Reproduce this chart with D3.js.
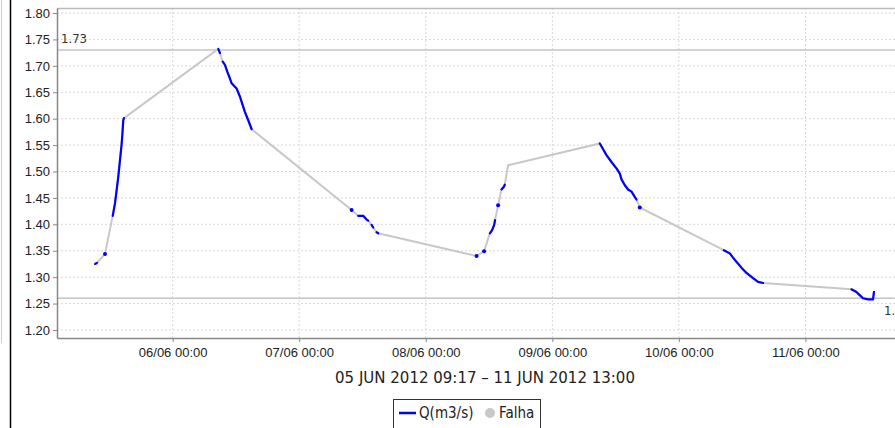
<!DOCTYPE html>
<html>
<head>
<meta charset="utf-8">
<script src="https://cdn.jsdelivr.net/npm/d3@7"></script>
<style>
  body { margin: 0; background: #fff; }
  svg { display: block; font-family: "DejaVu Sans Condensed", "DejaVu Sans", sans-serif; }
  .grid line { stroke: #d8d8d8; stroke-dasharray: 2,2; }
  .axis path, .axis line { stroke: #888; }
  .axis text { font-size: 13px; fill: #222; }
</style>
</head>
<body>
<svg width="895" height="428"></svg>
<script>
// measured flow, one sample per row
var times = [
  "2012-06-05 09:17", "2012-06-05 09:39", "2012-06-05 11:10", "2012-06-05 12:38", "2012-06-05 13:04",
  "2012-06-05 13:23", "2012-06-05 13:41", "2012-06-05 14:01", "2012-06-05 14:20", "2012-06-05 14:31",
  "2012-06-05 14:38", "2012-06-05 14:46", "2012-06-06 08:39", "2012-06-06 08:58", "2012-06-06 09:29",
  "2012-06-06 09:55", "2012-06-06 10:21", "2012-06-06 10:52", "2012-06-06 11:11", "2012-06-06 12:08",
  "2012-06-06 12:45", "2012-06-06 13:16", "2012-06-06 13:42", "2012-06-06 14:20", "2012-06-06 14:59",
  "2012-06-07 09:56", "2012-06-07 11:11", "2012-06-07 12:08", "2012-06-07 12:47", "2012-06-07 13:05",
  "2012-06-07 13:43", "2012-06-07 14:02", "2012-06-07 14:40", "2012-06-07 14:59", "2012-06-08 09:38",
  "2012-06-08 11:04", "2012-06-08 12:09", "2012-06-08 12:35", "2012-06-08 12:58", "2012-06-08 13:09",
  "2012-06-08 13:43", "2012-06-08 14:22", "2012-06-08 14:48", "2012-06-08 14:59", "2012-06-08 15:37",
  "2012-06-09 09:00", "2012-06-09 09:38", "2012-06-09 10:16", "2012-06-09 11:13", "2012-06-09 12:10",
  "2012-06-09 12:48", "2012-06-09 13:07", "2012-06-09 13:45", "2012-06-09 14:22", "2012-06-09 15:01",
  "2012-06-09 15:38", "2012-06-09 15:58", "2012-06-09 16:35", "2012-06-10 08:31", "2012-06-10 09:39",
  "2012-06-10 10:16", "2012-06-10 10:55", "2012-06-10 11:52", "2012-06-10 12:49", "2012-06-10 14:04",
  "2012-06-10 15:01", "2012-06-10 15:58", "2012-06-11 08:43", "2012-06-11 09:40", "2012-06-11 10:17",
  "2012-06-11 10:55", "2012-06-11 11:52", "2012-06-11 12:49", "2012-06-11 13:00"
];

var flow = [
  1.325, 1.327, 1.344, 1.416, 1.440,
  1.465, 1.490, 1.522, 1.553, 1.578,
  1.597, 1.601, 1.732, 1.724, 1.708,
  1.702, 1.689, 1.676, 1.667, 1.657,
  1.642, 1.626, 1.613, 1.597, 1.580,
  1.427, 1.416, 1.416, 1.409, 1.407,
  1.399, 1.394, 1.385, 1.383, 1.340,
  1.349, 1.383, 1.389, 1.399, 1.408,
  1.436, 1.466, 1.471, 1.475, 1.512,
  1.553, 1.542, 1.531, 1.518, 1.506,
  1.496, 1.485, 1.474, 1.466, 1.462,
  1.452, 1.447, 1.432, 1.351, 1.345,
  1.337, 1.329, 1.318, 1.308, 1.298,
  1.291, 1.289, 1.277, 1.272, 1.266,
  1.260, 1.258, 1.258, 1.272
];

// which continuous run of good data a sample belongs to (null = only in the failure line)
var runs = [
  1, 1, 2, 3, 3,
  3, 3, 3, 3, 3,
  3, 3, 4, 4, 5,
  5, 5, 5, 5, 5,
  5, 5, 5, 5, 5,
  6, 7, 7, 7, 7,
  8, 8, 9, 9, 10,
  11, 12, 12, 12, 12,
  13, 14, 14, 14, null,
  15, 15, 15, 15, 15,
  15, 15, 15, 15, 15,
  15, 15, 16, 17, 17,
  17, 17, 17, 17, 17,
  17, 17, 18, 18, 18,
  18, 18, 18, 18
];

var yTicks = [1.20, 1.25, 1.30, 1.35, 1.40, 1.45, 1.50, 1.55, 1.60, 1.65, 1.70, 1.75, 1.80];
var dayTicks = ["2012-06-06 00:00", "2012-06-07 00:00", "2012-06-08 00:00",
                "2012-06-09 00:00", "2012-06-10 00:00", "2012-06-11 00:00"];
var maxMin = [1.73, 1.26];
var rangeLabel = "05 JUN 2012 09:17 \u2013 11 JUN 2012 13:00";
var seriesNames = ["Q(m3/s)", "Falha"];

var parse = d3.timeParse("%Y-%m-%d %H:%M");
var data = times.map(function(t, i) {
  return {date: parse(t), q: flow[i], run: runs[i]};
});

var svg = d3.select("svg"),
    plot = {left: 57, top: 8, bottom: 338, right: 932};

var x = d3.scaleTime()
    .domain([parse("2012-06-05 02:04"), parse("2012-06-12 00:00")])
    .range([plot.left, plot.right]);
var y = d3.scaleLinear()
    .domain([1.1848, 1.8095])
    .range([plot.bottom, plot.top]);

// outer frame bits on the left
svg.append("line").attr("x1", 1.5).attr("x2", 1.5).attr("y1", 0).attr("y2", 343)
    .attr("stroke", "#ccc");
svg.append("line").attr("x1", 10.5).attr("x2", 10.5).attr("y1", 0).attr("y2", 428)
    .attr("stroke", "#000").attr("stroke-width", 1.5);

// grid
var grid = svg.append("g").attr("class", "grid");
grid.selectAll(".h").data(yTicks).enter().append("line")
    .attr("x1", plot.left).attr("x2", 895)
    .attr("y1", function(d) { return y(d); })
    .attr("y2", function(d) { return y(d); });
grid.selectAll(".v").data(dayTicks).enter().append("line")
    .attr("x1", function(d) { return x(parse(d)); })
    .attr("x2", function(d) { return x(parse(d)); })
    .attr("y1", plot.top).attr("y2", plot.bottom);

// top border of the plot
svg.append("line").attr("x1", plot.left).attr("x2", 895)
    .attr("y1", plot.top + 0.5).attr("y2", plot.top + 0.5)
    .attr("stroke", "#bbb").attr("stroke-width", 1.5);

// max / min markers
svg.selectAll(".marker").data(maxMin).enter().append("line")
    .attr("x1", plot.left).attr("x2", 895)
    .attr("y1", function(d) { return y(d); })
    .attr("y2", function(d) { return y(d); })
    .attr("stroke", "#c4c4c4").attr("stroke-width", 1.5);
svg.append("text")
    .attr("x", plot.left + 4).attr("y", y(maxMin[0]) - 7)
    .attr("font-size", 13).attr("fill", "#333")
    .text(maxMin[0].toFixed(2));
svg.append("text")
    .attr("x", 884).attr("y", y(maxMin[1]) + 17)
    .attr("font-size", 13).attr("fill", "#333")
    .text(maxMin[1].toFixed(2));

// axes
svg.append("g")
    .attr("class", "axis")
    .attr("transform", "translate(" + plot.left + ",0)")
    .call(d3.axisLeft(y).tickValues(yTicks).tickFormat(d3.format(".2f")).tickSize(4).tickPadding(3).tickSizeOuter(0))
    .call(function(g) { g.select(".domain").attr("stroke-width", 1.5); });

svg.append("g")
    .attr("class", "axis")
    .attr("transform", "translate(0," + plot.bottom + ")")
    .call(d3.axisBottom(x).tickValues(dayTicks.map(parse)).tickFormat(d3.timeFormat("%d/%m %H:%M")).tickSize(4).tickPadding(6).tickSizeOuter(0))
    .call(function(g) { g.select(".domain").attr("stroke-width", 1.5); });

// failure line runs through every sample
var line = d3.line()
    .x(function(d) { return x(d.date); })
    .y(function(d) { return y(d.q); });

svg.append("path")
    .datum(data)
    .attr("fill", "none")
    .attr("stroke", "#c8c8c8")
    .attr("stroke-width", 2)
    .attr("d", line);

// good data on top, one path per run
var groups = d3.groups(data.filter(function(d) { return d.run != null; }), function(d) { return d.run; });
groups.forEach(function(g) {
  var pts = g[1];
  if (pts.length > 1) {
    svg.append("path")
        .datum(pts)
        .attr("fill", "none")
        .attr("stroke", "#0000ff")
        .attr("stroke-width", 2.2)
        .attr("stroke-linejoin", "round")
        .attr("stroke-linecap", "round")
        .attr("d", line);
  } else {
    svg.append("circle")
        .attr("cx", x(pts[0].date))
        .attr("cy", y(pts[0].q))
        .attr("r", 2)
        .attr("fill", "#0000ff");
  }
});

// period label
svg.append("text")
    .attr("x", 485).attr("y", 383)
    .attr("text-anchor", "middle")
    .attr("font-family", "DejaVu Sans")
    .attr("font-size", 15).attr("fill", "#222")
    .text(rangeLabel);

// legend
var legend = svg.append("g").attr("transform", "translate(393,399)");
legend.append("rect")
    .attr("x", 0.5).attr("y", 0.5).attr("width", 147).attr("height", 35)
    .attr("fill", "#fff").attr("stroke", "#333");
legend.append("line")
    .attr("x1", 6).attr("x2", 23).attr("y1", 14).attr("y2", 14)
    .attr("stroke", "#0000ff").attr("stroke-width", 2.5);
legend.append("text")
    .attr("x", 26).attr("y", 19)
    .attr("font-size", 15).attr("fill", "#222")
    .text(seriesNames[0]);
legend.append("circle")
    .attr("cx", 97).attr("cy", 14).attr("r", 5)
    .attr("fill", "#c8c8c8");
legend.append("text")
    .attr("x", 106).attr("y", 19)
    .attr("font-size", 15).attr("fill", "#222")
    .text(seriesNames[1]);
</script>
</body>
</html>
